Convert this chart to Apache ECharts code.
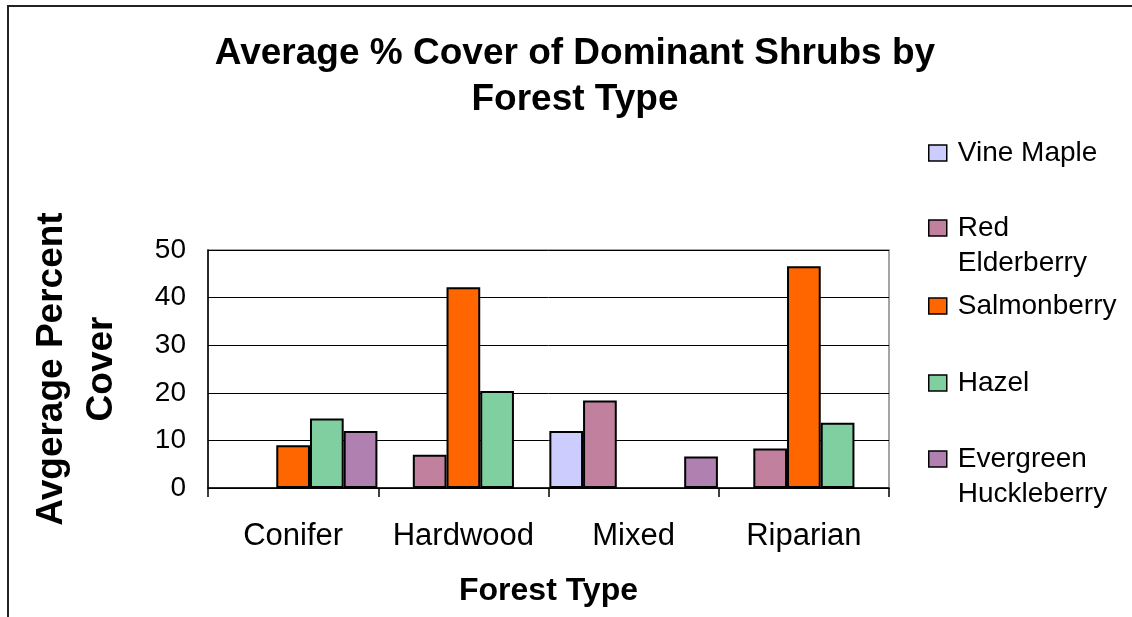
<!DOCTYPE html>
<html>
<head>
<meta charset="utf-8">
<script src="https://cdn.jsdelivr.net/npm/echarts@6/dist/echarts.min.js"></script>
<style>
  html, body { margin: 0; padding: 0; background: #fff; }
  #chart { width: 1132px; height: 617px; }
</style>
</head>
<body>
<div id="chart"></div>
<script>
// Forest types along the x axis
const forestTypes = ['Conifer', 'Hardwood', 'Mixed', 'Riparian'];

// Average percent cover of each shrub, per forest type (null = not present)
const vineMaple     = [null, null, 12.0, null];
const redElderberry = [null, 7.0, 18.4, 8.3];
const salmonberry   = [9.0, 42.2, null, 46.6];
const hazel         = [14.6, 20.4, null, 13.7];
const huckleberry   = [12.0, null, 6.6, null];

// Y axis ticks
const yTicks = [0, 10, 20, 30, 40, 50];

const shrubs = [
  { name: 'Vine Maple', label: 'Vine Maple', data: vineMaple, color: '#CCCCFF', top: 153 },
  { name: 'Red Elderberry', label: 'Red\nElderberry', data: redElderberry, color: '#C0809E', top: 228 },
  { name: 'Salmonberry', label: 'Salmonberry', data: salmonberry, color: '#FF6600', top: 306 },
  { name: 'Hazel', label: 'Hazel', data: hazel, color: '#80CFA0', top: 383 },
  { name: 'Evergreen Huckleberry', label: 'Evergreen\nHuckleberry', data: huckleberry, color: '#B080B0', top: 459 }
];

const FONT = '"Liberation Sans", Arial, sans-serif';
const LEG_LH = 35;

const chart = echarts.init(document.getElementById('chart'), null, { renderer: 'canvas' });

// One legend block per shrub so that every swatch sits on its own row line.
// Two-line names get a blank leading line so that the first word lines up
// with the swatch and the second word hangs below it.
const legends = shrubs.map(s => {
  const twoLine = s.label.indexOf('\n') >= 0;
  const text = twoLine ? ' \n' + s.label : s.label;
  return {
    orient: 'vertical',
    left: 928,
    top: twoLine ? s.top - LEG_LH * 1.5 : s.top - LEG_LH / 2,
    padding: 0,
    itemWidth: 18,
    itemHeight: 16,
    itemGap: 0,
    data: [{ name: s.name, icon: 'rect' }],
    formatter: () => text,
    selectedMode: false,
    itemStyle: { borderColor: '#000', borderWidth: 1.5 },
    textStyle: {
      fontFamily: FONT,
      fontSize: 28,
      color: '#000',
      lineHeight: LEG_LH,
      padding: [0, 0, 0, 6]
    }
  };
});

const option = {
  backgroundColor: '#fff',
  animation: false,
  title: {
    text: 'Average % Cover of Dominant Shrubs by\nForest Type',
    left: 570,
    textAlign: 'center',
    top: 26,
    textStyle: {
      fontFamily: FONT,
      fontSize: 37,
      fontWeight: 'bold',
      color: '#000',
      lineHeight: 46
    }
  },
  legend: legends,
  grid: {
    left: 208,
    right: 243,
    top: 250,
    bottom: 129,
    show: true,
    borderColor: '#888',
    borderWidth: 1.5,
    containLabel: false
  },
  xAxis: {
    type: 'category',
    data: forestTypes,
    boundaryGap: true,
    name: 'Forest Type',
    nameLocation: 'middle',
    nameGap: 87,
    nameTextStyle: {
      fontFamily: FONT,
      fontSize: 32,
      fontWeight: 'bold',
      color: '#000'
    },
    axisLine: { show: true, lineStyle: { color: '#000', width: 1.5 } },
    axisTick: { show: true, interval: 0, length: 9, lineStyle: { color: '#000', width: 1.5 } },
    axisLabel: {
      interval: 0,
      margin: 33,
      fontFamily: FONT,
      fontSize: 31,
      color: '#000'
    }
  },
  yAxis: {
    type: 'value',
    min: yTicks[0],
    max: yTicks[yTicks.length - 1],
    interval: yTicks[1] - yTicks[0],
    name: 'Avgerage Percent\nCover',
    nameLocation: 'middle',
    nameRotate: 90,
    nameGap: 81,
    nameTextStyle: {
      fontFamily: FONT,
      fontSize: 37,
      fontWeight: 'bold',
      color: '#000',
      lineHeight: 50
    },
    axisLine: { show: true, lineStyle: { color: '#000', width: 1.5 } },
    axisTick: { show: false },
    splitLine: { show: true, lineStyle: { color: '#000', width: 1 } },
    axisLabel: {
      margin: 22,
      fontFamily: FONT,
      fontSize: 28,
      color: '#000'
    }
  },
  series: shrubs.map(s => ({
    name: s.name,
    type: 'bar',
    data: s.data,
    barGap: '0%',
    barCategoryGap: '1%',
    itemStyle: {
      color: s.color,
      borderColor: '#000',
      borderWidth: 2
    }
  })),
  graphic: [
    {
      type: 'polyline',
      shape: { points: [[8, 617], [8, 6], [1132, 6]] },
      style: { stroke: '#222', lineWidth: 2, fill: null },
      silent: true
    }
  ]
};

chart.setOption(option);
</script>
</body>
</html>
